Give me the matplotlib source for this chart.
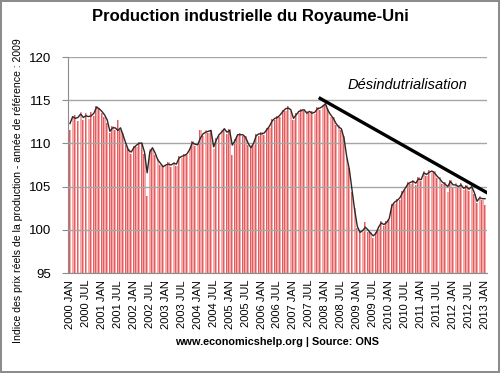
import matplotlib
matplotlib.use("Agg")
import matplotlib.pyplot as plt
import numpy as np

WIDTH, HEIGHT = 500, 373

years = list(range(2000, 2014))
tick_labels = []
for y in years:
    tick_labels.append("%d JAN" % y)
    if y < 2013:
        tick_labels.append("%d JUL" % y)

# smoothed line, one value per month from 2000 JAN to 2013 JAN
line_values = [
    112.3, 113.1, 112.9, 113.0, 113.4, 113.0, 113.2, 113.1, 113.2, 113.5, 114.2, 114.0,
    113.7, 113.3, 112.7, 111.4, 111.8, 111.8, 111.5, 111.8, 110.9, 110.0, 109.2, 109.0,
    109.5, 109.8, 110.0, 110.05, 109.0, 106.6, 109.0, 109.5, 108.9, 108.1, 107.7, 107.3,
    107.5, 107.6, 107.5, 107.7, 107.6, 108.3, 108.5, 108.6, 108.8, 109.3, 110.1, 109.9,
    109.85, 110.6, 111.1, 111.3, 111.4, 111.5, 109.6, 110.4, 111.0, 111.3, 111.7, 111.3,
    111.5, 109.8, 110.3, 111.0, 111.0, 111.0, 110.7, 110.0, 109.5, 110.0, 110.9, 111.1,
    111.1, 111.2, 111.6, 112.0, 112.6, 112.9, 113.0, 113.3, 113.7, 114.0, 114.1, 113.9,
    112.9, 113.3, 113.7, 113.8, 113.9, 113.5, 113.7, 113.5, 113.6, 114.0, 114.1, 114.3,
    114.6, 113.8, 113.3, 112.9, 112.3, 111.9, 111.7, 110.6, 108.5, 107.0, 104.6, 102.3,
    100.4, 99.7, 99.9, 100.3, 100.0, 99.6, 99.3, 99.6, 100.3, 100.8, 100.6, 100.85,
    101.3, 102.8, 103.2, 103.4, 103.7, 104.3, 104.8, 105.3, 105.5, 105.6, 105.4, 105.9,
    105.8, 106.6, 106.4, 106.65, 106.8, 106.6, 106.2, 105.9, 105.5, 105.3, 105.0, 105.6,
    105.2, 105.2, 105.0, 105.2, 104.8, 105.0, 104.7, 105.0, 104.3, 103.3, 103.7, 103.6,
    103.6,
]

# monthly values shown as bars
bar_values = [
    111.6, 112.9, 113.3, 112.6, 113.6, 112.7, 113.5, 112.8, 113.6, 113.2, 114.3, 114.1,
    113.5, 113.1, 112.4, 111.2, 112.0, 111.5, 112.7, 111.6, 111.2, 109.8, 109.4, 108.8,
    109.7, 109.6, 110.2, 110.1, 108.8, 103.9, 109.3, 109.4, 108.7, 108.2, 107.5, 107.4,
    107.4, 107.8, 107.3, 107.9, 107.4, 108.5, 108.3, 108.8, 108.6, 109.5, 110.3, 109.7,
    110.0, 111.6, 110.9, 111.5, 111.2, 111.6, 109.3, 110.6, 110.8, 111.5, 111.6, 111.1,
    111.7, 108.7, 110.5, 110.9, 111.2, 110.8, 110.9, 109.8, 109.6, 109.8, 111.1, 110.9,
    111.3, 111.0, 111.8, 111.8, 112.8, 112.7, 113.2, 113.1, 113.9, 113.8, 114.3, 113.7,
    112.7, 113.5, 113.5, 114.0, 113.7, 113.7, 113.5, 113.7, 113.4, 114.2, 113.9, 114.5,
    114.4, 114.0, 113.1, 113.1, 112.1, 112.1, 111.5, 110.8, 108.3, 107.2, 104.4, 102.5,
    100.2, 99.9, 99.7, 100.9, 99.8, 99.8, 99.1, 99.8, 100.1, 101.0, 100.4, 101.0,
    101.1, 103.0, 103.0, 103.6, 103.5, 104.5, 104.6, 105.5, 105.3, 105.8, 105.2, 106.1,
    105.6, 106.8, 106.2, 106.9, 106.6, 106.8, 106.0, 106.1, 105.3, 105.5, 104.4, 105.8,
    105.0, 105.4, 104.8, 105.4, 104.6, 105.2, 104.5, 105.2, 104.1, 103.1, 103.9, 103.4,
    102.9,
]

# start and end of the drawn downward trend (month index, value)
trend_x = [93.5, 157.0]
trend_y = [115.3, 104.25]

plt.rcParams["font.family"] = ["Liberation Sans", "DejaVu Sans"]

fig = plt.figure(figsize=(WIDTH / 100, HEIGHT / 100), dpi=100)
fig.patch.set_edgecolor("#8c8c8c")
fig.patch.set_linewidth(1.5)

ax = fig.add_axes([68 / WIDTH, 100 / HEIGHT, 419 / WIDTH, 216 / HEIGHT])

months = np.arange(len(bar_values))
base = 95
heights = np.array(bar_values) - base
# pink body of each bar plus a darker left edge, close to the Excel gradient
ax.bar(months - 0.42, heights, width=0.86, bottom=base, align="edge",
       color="#f4aaaa", linewidth=0, zorder=1)
ax.bar(months - 0.42, heights, width=0.3, bottom=base, align="edge",
       color="#e25e5e", linewidth=0, zorder=1)

ax.plot(np.arange(len(line_values)), line_values, color="#2a2a2a", lw=1.0, zorder=4)
ax.plot(trend_x, trend_y, color="black", lw=2.4, zorder=5, solid_capstyle="butt")

ax.set_ylim(95, 120)
ax.set_xlim(-0.75, 156.75)
ax.set_yticks(np.arange(95, 121, 5))
ax.yaxis.grid(True, color="#a6a6a6", lw=1, zorder=3)
ax.set_axisbelow(False)
ax.set_xticks(np.arange(0, 157, 6))
ax.set_xticklabels(tick_labels, rotation=90, fontsize=8)
ax.tick_params(axis="x", length=0, pad=5)
ax.tick_params(axis="y", length=4, color="#8c8c8c", labelsize=9.5, pad=8)

for side in ["top", "right"]:
    ax.spines[side].set_visible(False)
ax.spines["left"].set_color("#8c8c8c")
ax.spines["bottom"].set_color("#8c8c8c")

fig.text(18 / WIDTH, 1 - 191 / HEIGHT,
         "Indice des prix réels de la production - année de référence : 2009",
         rotation=90, ha="center", va="center", fontsize=7.6)
fig.text(0.5, 1 - 17 / HEIGHT, "Production industrielle du Royaume-Uni",
         ha="center", va="center", fontsize=12, fontweight="bold")
fig.text(277 / WIDTH, 1 - 342 / HEIGHT, "www.economicshelp.org | Source: ONS",
         ha="center", va="center", fontsize=7.8, fontweight="bold")
ax.text(126.7, 116.8, "Désindutrialisation", ha="center", va="center",
        fontsize=10.5, style="italic")

fig.savefig("out.png", dpi=100)
